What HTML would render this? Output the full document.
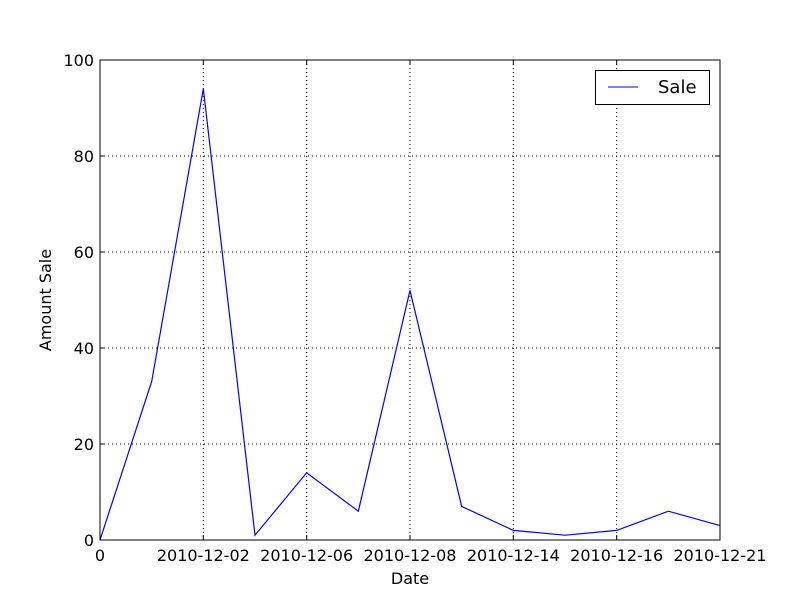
<!DOCTYPE html>
<html><head><meta charset="utf-8"><style>
html,body{margin:0;padding:0;background:#fff;}
svg{display:block;font-family:"DejaVu Sans","Liberation Sans",sans-serif;}
</style></head><body>
<svg id="chart" width="800" height="600" viewBox="0 0 800 600">
<rect x="0" y="0" width="800" height="600" fill="#fff"/>
<g id="grid"></g>
<g id="series"></g>
<g id="axes"></g>
<rect x="100" y="60" width="620" height="480" fill="none" stroke="#000" stroke-width="1"/>
<text x="410" y="584" font-size="16" text-anchor="middle">Date</text>
<text x="51" y="300" font-size="16" text-anchor="middle" transform="rotate(-90 51 300)">Amount Sale</text>
<g>
<rect x="595.5" y="70.5" width="114" height="34" fill="#fff" stroke="#000"/>
<line x1="608" y1="87" x2="638" y2="87" stroke="#0000ff" stroke-width="1"/>
<text x="658" y="93" font-size="18">Sale</text>
</g>
</svg>
<script>
const values = [0, 33, 94, 1, 14, 6, 52, 7, 2, 1, 2, 6, 3];
const xTickIdx = [0, 2, 4, 6, 8, 10, 12];
const xTickLabels = ["0", "2010-12-02", "2010-12-06", "2010-12-08", "2010-12-14", "2010-12-16", "2010-12-21"];
const yTicks = [0, 20, 40, 60, 80, 100];

const L=100,R=720,T=60,B=540,xMax=12,yMax=100;
const xs=i=>L+(R-L)*i/xMax;
const ys=v=>B-(B-T)*v/yMax;
const NS="http://www.w3.org/2000/svg";
function mk(tag,attrs,parent){const e=document.createElementNS(NS,tag);for(const k in attrs)e.setAttribute(k,attrs[k]);parent.appendChild(e);return e;}
const grid=document.getElementById('grid'),axes=document.getElementById('axes'),series=document.getElementById('series');

xTickIdx.forEach((t,i)=>{
  const x=xs(t);
  const g=mk('line',{x1:x,y1:T,x2:x,y2:B,stroke:'#000','stroke-dasharray':'1,3','stroke-width':1},grid);
  
  
  const t1=mk('line',{x1:x,y1:B,x2:x,y2:B-5,stroke:'#000'},axes);
  
  
  const t2=mk('line',{x1:x,y1:T,x2:x,y2:T+5,stroke:'#000'},axes);
  
  
  const lb=mk('text',{x:x,y:B+21,'font-size':16,'text-anchor':'middle'},axes);
  lb.textContent=xTickLabels[i];
  
  
});
yTicks.forEach(v=>{
  const y=ys(v);
  const g=mk('line',{x1:L,y1:y,x2:R,y2:y,stroke:'#000','stroke-dasharray':'1,3','stroke-width':1},grid);
  
  
  const t1=mk('line',{x1:L,y1:y,x2:L+5,y2:y,stroke:'#000'},axes);
  
  
  const t2=mk('line',{x1:R,y1:y,x2:R-5,y2:y,stroke:'#000'},axes);
  
  
  const lb=mk('text',{x:L-6,y:y+6,'font-size':16,'text-anchor':'end'},axes);
  lb.textContent=String(v);
  
  
});
const pts=values.map((v,i)=>xs(i)+','+ys(v)).join(' ');
const line=mk('polyline',{points:pts,fill:'none',stroke:'#0000ff','stroke-width':1.2},series);


</script>
</body></html>
